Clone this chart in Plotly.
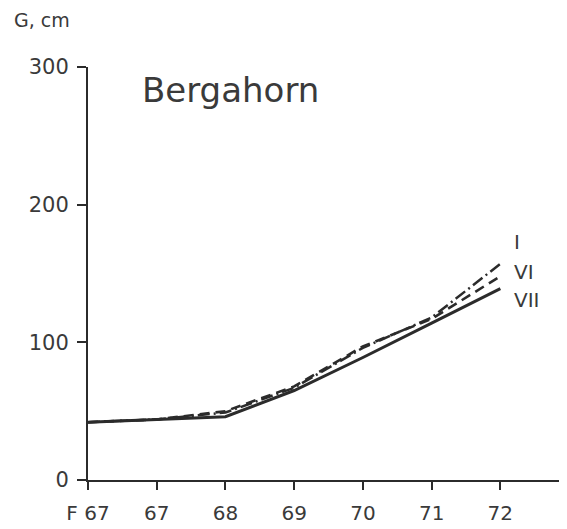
import plotly.graph_objects as go

tick_labels = ["F 67", "67", "68", "69", "70", "71", "72"]
x_pos = [0, 1, 2, 3, 4, 5, 6]
series_I = [42, 44, 49, 67, 96, 118, 157]
series_VI = [42, 44, 50, 68, 97, 117, 148]
series_VII = [42, 44, 46, 65, 89, 114, 139]
y_ticks = [0, 100, 200, 300]

FONT = "DejaVu Sans"
INK = "#2b2b2b"
TXT = "#3a3a3a"

OFF = 8  # page body margin
FW, FH = 567 - OFF, 529 - OFF
L, T, W, H = 88 - OFF, 67 - OFF, 479, 413  # plot area in figure pixels


def px(xp):
    return (xp - OFF - L) / W


def py(yp):
    return (T + H - (yp - OFF)) / H


fig = go.Figure()
fig.add_trace(go.Scatter(x=x_pos, y=series_I, mode="lines",
                         line=dict(color=INK, width=2.5, dash="12px,4px,2px,4px"),
                         cliponaxis=False, showlegend=False))
fig.add_trace(go.Scatter(x=x_pos, y=series_VI, mode="lines",
                         line=dict(color=INK, width=2.6, dash="10px,6px"),
                         cliponaxis=False, showlegend=False))
fig.add_trace(go.Scatter(x=x_pos, y=series_VII, mode="lines",
                         line=dict(color=INK, width=3),
                         cliponaxis=False, showlegend=False))

for txt, yv in [("I", 173), ("VI", 151), ("VII", 131)]:
    fig.add_annotation(x=6.17, y=yv, text=txt, showarrow=False, xanchor="left",
                       font=dict(family=FONT, size=20, color=TXT))

fig.add_annotation(x=px(140), y=py(90), xref="paper", yref="paper", text="Bergahorn",
                   showarrow=False, xanchor="left", yanchor="middle",
                   font=dict(family=FONT, size=34, color=TXT))

fig.add_annotation(x=px(12), y=py(20), xref="paper", yref="paper",
                   text="G, cm", showarrow=False, xanchor="left", yanchor="middle",
                   font=dict(family=FONT, size=19, color=TXT))

fig.update_layout(
    width=FW, height=FH,
    margin=dict(l=L, r=FW - L - W, t=T, b=FH - T - H, autoexpand=False),
    paper_bgcolor="white", plot_bgcolor="white",
    font=dict(family=FONT, color=TXT),
)

fig.update_xaxes(range=[0, 6.97], tickmode="array", tickvals=x_pos, ticktext=tick_labels,
                 showgrid=False, zeroline=False, showline=True, linecolor=INK, linewidth=2,
                 ticks="outside", ticklen=8, tickwidth=2, tickcolor=INK,
                 tickfont=dict(family=FONT, size=20, color=TXT),
                 ticklabelstandoff=6, automargin=False, fixedrange=True)
fig.update_yaxes(range=[0, 300], tickmode="array", tickvals=y_ticks,
                 showgrid=False, zeroline=False, showline=True, linecolor=INK, linewidth=2,
                 ticks="outside", ticklen=9, tickwidth=2, tickcolor=INK,
                 tickfont=dict(family=FONT, size=21, color=TXT),
                 ticklabelstandoff=4, automargin=False, fixedrange=True)

fig.write_html("out.html")
